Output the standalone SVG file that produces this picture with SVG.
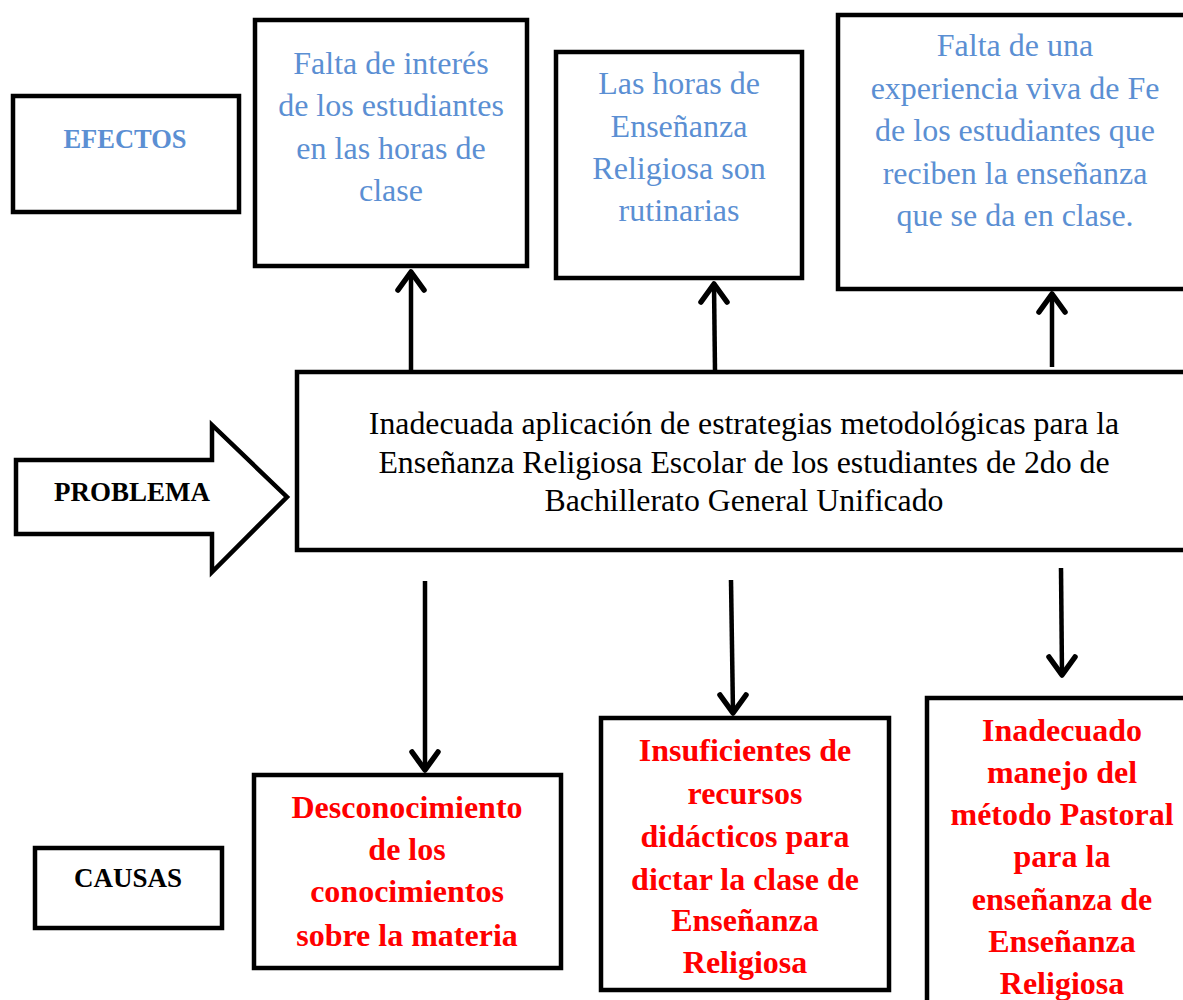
<svg xmlns="http://www.w3.org/2000/svg" width="1183" height="1000" viewBox="0 0 1183 1000">
<style>
.box{fill:#fff;stroke:#000;stroke-width:4.5}
.eff{font-family:"Liberation Serif",serif;font-size:32px;fill:#5B8FD3;text-anchor:middle}
.cau{font-family:"Liberation Serif",serif;font-size:32px;font-weight:bold;fill:#FF0000;text-anchor:middle}
.prob{font-family:"Liberation Serif",serif;font-size:31.8px;fill:#000;text-anchor:middle}
.lab{font-family:"Liberation Serif",serif;font-weight:bold;text-anchor:middle}
.con{stroke:#000;stroke-width:4.5;fill:none}
.head{stroke:#000;stroke-width:5.5;fill:none;stroke-linecap:round;stroke-linejoin:round}
</style>
<rect width="1183" height="1000" fill="#fff"/>
<g id="efectos-label">
<rect class="box" x="13" y="96" width="226" height="116"/>
<text class="lab" x="125" y="148" font-size="26.5" fill="#5B8FD3">EFECTOS</text>
</g>
<g id="efecto1">
<rect class="box" x="255" y="20" width="272" height="246"/>
<text class="eff" x="391" y="74">Falta de interés</text>
<text class="eff" x="391" y="116">de los estudiantes</text>
<text class="eff" x="391" y="159">en las horas de</text>
<text class="eff" x="391" y="201">clase</text>
</g>
<g id="efecto2">
<rect class="box" x="556" y="52" width="246" height="226"/>
<text class="eff" x="679" y="94">Las horas de</text>
<text class="eff" x="679" y="137">Enseñanza</text>
<text class="eff" x="679" y="179">Religiosa son</text>
<text class="eff" x="679" y="221">rutinarias</text>
</g>
<g id="efecto3">
<rect class="box" x="838" y="15" width="360" height="274"/>
<text class="eff" x="1015" y="56">Falta de una</text>
<text class="eff" x="1015" y="99">experiencia viva de Fe</text>
<text class="eff" x="1015" y="141">de los estudiantes que</text>
<text class="eff" x="1015" y="184">reciben la enseñanza</text>
<text class="eff" x="1015" y="226">que se da en clase.</text>
</g>
<g id="problema-label">
<path class="box" d="M16,460 L212,460 L212,425 L287,497 L212,572 L212,534 L16,534 Z" stroke-linejoin="miter"/>
<text class="lab" x="132" y="501" font-size="27" fill="#000">PROBLEMA</text>
</g>
<g id="problema">
<rect class="box" x="297" y="372" width="900" height="178"/>
<text class="prob" x="744" y="434">Inadecuada aplicación de estrategias metodológicas para la</text>
<text class="prob" x="744" y="473">Enseñanza Religiosa Escolar de los estudiantes de 2do de</text>
<text class="prob" x="744" y="511">Bachillerato General Unificado</text>
</g>
<g id="causas-label">
<rect class="box" x="35" y="848" width="187" height="80"/>
<text class="lab" x="128" y="887" font-size="27" fill="#000">CAUSAS</text>
</g>
<g id="causa1">
<rect class="box" x="254" y="775" width="307" height="193"/>
<text class="cau" x="407" y="818">Desconocimiento</text>
<text class="cau" x="407" y="860">de los</text>
<text class="cau" x="407" y="902">conocimientos</text>
<text class="cau" x="407" y="946">sobre la materia</text>
</g>
<g id="causa2">
<rect class="box" x="601" y="718" width="288" height="272"/>
<text class="cau" x="745" y="761">Insuficientes de</text>
<text class="cau" x="745" y="804">recursos</text>
<text class="cau" x="745" y="847">didácticos para</text>
<text class="cau" x="745" y="890">dictar la clase de</text>
<text class="cau" x="745" y="931">Enseñanza</text>
<text class="cau" x="745" y="973">Religiosa</text>
</g>
<g id="causa3">
<rect class="box" x="927" y="698" width="270" height="320"/>
<text class="cau" x="1062" y="741">Inadecuado</text>
<text class="cau" x="1062" y="783">manejo del</text>
<text class="cau" x="1062" y="825">método Pastoral</text>
<text class="cau" x="1062" y="867">para la</text>
<text class="cau" x="1062" y="910">enseñanza de</text>
<text class="cau" x="1062" y="952">Enseñanza</text>
<text class="cau" x="1062" y="994">Religiosa</text>
</g>
<g id="connectors">
<line class="con" x1="411" y1="371" x2="411" y2="272"/>
<path class="head" d="M398,290 L411,272 L424,290"/>
<line class="con" x1="715" y1="371" x2="714" y2="284"/>
<path class="head" d="M701,302 L714,284 L727,302"/>
<line class="con" x1="1052" y1="367" x2="1052" y2="294"/>
<path class="head" d="M1039,312 L1052,294 L1065,312"/>
<line class="con" x1="425" y1="581" x2="425" y2="770"/>
<path class="head" d="M412,752 L425,770 L438,752"/>
<line class="con" x1="731" y1="580" x2="733" y2="713"/>
<path class="head" d="M720,695 L733,713 L746,695"/>
<line class="con" x1="1061" y1="568" x2="1062" y2="675"/>
<path class="head" d="M1049,657 L1062,675 L1075,657"/>
</g>
</svg>
